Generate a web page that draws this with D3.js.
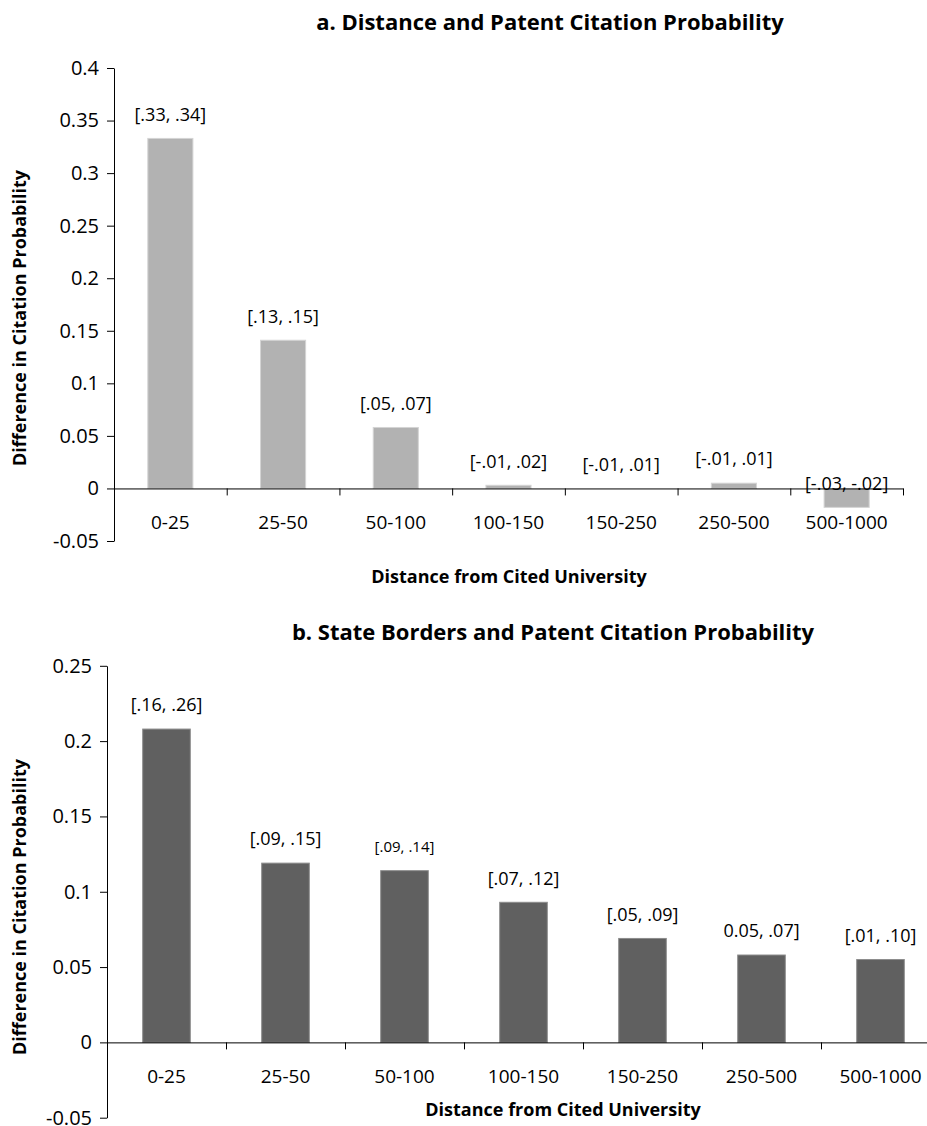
<!DOCTYPE html>
<html>
<head>
<meta charset="utf-8">
<script src="https://cdn.jsdelivr.net/npm/d3@7"></script>
<style>
  body { margin: 0; background: #fff; }
  text { font-family: "Open Sans", sans-serif; fill: #000; }
</style>
</head>
<body>
<div id="chart"></div>
<script>
// categories shared by both panels
const distances = ["0-25", "25-50", "50-100", "100-150", "150-250", "250-500", "500-1000"];

// panel a: distance effect
const valuesA = [0.333, 0.141, 0.058, 0.003, 0.0, 0.005, -0.018];
const labelsA = ["[.33, .34]", "[.13, .15]", "[.05, .07]", "[-.01, .02]", "[-.01, .01]", "[-.01, .01]", "[-.03, -.02]"];
const yTicksA = [-0.05, 0, 0.05, 0.1, 0.15, 0.2, 0.25, 0.3, 0.35, 0.4];

// panel b: state border effect
const valuesB = [0.208, 0.119, 0.114, 0.093, 0.069, 0.058, 0.055];
const labelsB = ["[.16, .26]", "[.09, .15]", "[.09, .14]", "[.07, .12]", "[.05, .09]", "0.05, .07]", "[.01, .10]"];
const yTicksB = [-0.05, 0, 0.05, 0.1, 0.15, 0.2, 0.25];

const svg = d3.select("#chart").append("svg")
  .attr("width", 927)
  .attr("height", 1126);

function drawPanel(opts) {
  const g = svg.append("g");

  let y = d3.scaleLinear()
    .domain([opts.ticks[0], opts.ticks[opts.ticks.length - 1]])
    .range([opts.bottom, opts.top]);

  let x = d3.scaleBand()
    .domain(distances)
    .range([opts.left, opts.right])
    .paddingInner(0.6)
    .paddingOuter(0.3);

  // bars
  g.selectAll("rect")
    .data(opts.values)
    .enter()
    .append("rect")
    .attr("x", (d, i) => x(distances[i]))
    .attr("width", x.bandwidth())
    .attr("y", d => Math.min(y(d), y(0)))
    .attr("height", d => Math.abs(y(d) - y(0)))
    .attr("fill", opts.fill)
    .attr("stroke", opts.stroke)
    .attr("stroke-width", 1);

  // value range labels
  g.selectAll(".lbl")
    .data(opts.values)
    .enter()
    .append("text")
    .attr("class", "lbl")
    .attr("x", (d, i) => x(distances[i]) + x.bandwidth() / 2)
    .attr("y", d => y(d) - 24)
    .attr("dy", "0.35em")
    .attr("text-anchor", "middle")
    .style("font-size", (d, i) => opts.labels[i] === "[.09, .14]" ? "15px" : "18px")
    .text((d, i) => opts.labels[i]);

  // y axis
  g.append("g")
    .attr("transform", `translate(${opts.left},0)`)
    .call(d3.axisLeft(y).tickValues(opts.ticks).tickSize(7).tickSizeOuter(0).tickPadding(8)
      .tickFormat(d => String(d)))
    .call(a => a.selectAll("text").style("font-size", "20px").attr("fill", "#000"))
    .call(a => a.selectAll("line, path").attr("stroke", "#000"));

  // category axis along zero
  let xi = d3.scaleLinear().domain([0, distances.length]).range([opts.left, opts.right]);
  g.append("g")
    .attr("transform", `translate(0,${y(0)})`)
    .call(d3.axisBottom(xi).tickValues(d3.range(1, distances.length + 1)).tickFormat("")
      .tickSize(7).tickSizeOuter(0))
    .call(a => a.selectAll("line, path").attr("stroke", "#000"));

  g.selectAll(".cat")
    .data(distances)
    .enter()
    .append("text")
    .attr("class", "cat")
    .attr("x", d => x(d) + x.bandwidth() / 2)
    .attr("y", y(0) + 34)
    .attr("dy", "0.35em")
    .attr("text-anchor", "middle")
    .style("font-size", "19px")
    .text(d => d);

  // titles
  g.append("text")
    .attr("x", opts.titleX)
    .attr("y", opts.titleY)
    .attr("dy", "0.35em")
    .attr("text-anchor", "middle")
    .style("font-size", "22px")
    .style("font-weight", "bold")
    .text(opts.title);

  g.append("text")
    .attr("x", opts.xTitleX)
    .attr("y", opts.xTitleY)
    .attr("dy", "0.35em")
    .attr("text-anchor", "middle")
    .style("font-size", "18px")
    .style("font-weight", "bold")
    .text("Distance from Cited University");

  g.append("text")
    .attr("transform", "rotate(-90)")
    .attr("x", -opts.yTitleY)
    .attr("y", 20)
    .attr("dy", "0.35em")
    .attr("text-anchor", "middle")
    .style("font-size", "18px")
    .style("font-weight", "bold")
    .text("Difference in Citation Probability");
}

drawPanel({
  values: valuesA, labels: labelsA, ticks: yTicksA,
  top: 68, bottom: 541, left: 114, right: 903,
  fill: "#b2b2b2", stroke: "#d4d4d4",
  title: "a. Distance and Patent Citation Probability", titleX: 550, titleY: 22,
  xTitleX: 509, xTitleY: 577, yTitleY: 318
});

drawPanel({
  values: valuesB, labels: labelsB, ticks: yTicksB,
  top: 665.8, bottom: 1117.7, left: 107, right: 940,
  fill: "#606060", stroke: "#8c8c8c",
  title: "b. State Borders and Patent Citation Probability", titleX: 553, titleY: 632,
  xTitleX: 563, xTitleY: 1110, yTitleY: 907
});
</script>
</body>
</html>
